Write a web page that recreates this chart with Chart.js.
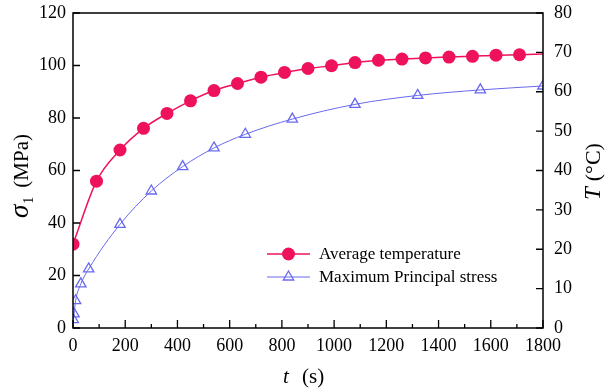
<!DOCTYPE html>
<html>
<head>
<meta charset="utf-8">
<script src="https://cdn.jsdelivr.net/npm/chart.js@4"></script>
<style>
  html, body { margin: 0; padding: 0; background: #fff; }
  #wrap { width: 606px; height: 389px; position: relative; }
</style>
</head>
<body>
<div id="wrap"><canvas id="chart"></canvas></div>
<script>
// Average temperature (right axis, °C)
const tempTime = [0, 90, 180, 270, 360, 450, 540, 630, 720, 810, 900, 990, 1080, 1170, 1260, 1350, 1440, 1530, 1620, 1710, 1800];
const tempValues = [21.3, 37.3, 45.2, 50.7, 54.5, 57.7, 60.3, 62.1, 63.7, 64.9, 65.9, 66.6, 67.4, 68.0, 68.3, 68.6, 68.8, 69.0, 69.3, 69.4, 69.6];

// Maximum principal stress (left axis, MPa)
const stressTime = [1, 4, 10, 30, 60, 180, 300, 420, 540, 660, 840, 1080, 1320, 1560, 1800];
const stressValues = [3.2, 5.4, 10.4, 16.8, 22.5, 39.5, 52.2, 61.5, 68.6, 73.8, 79.6, 85.2, 88.6, 90.7, 92.2];

const xTicks = [0, 200, 400, 600, 800, 1000, 1200, 1400, 1600, 1800];
const leftTicks = [0, 20, 40, 60, 80, 100, 120];
const rightTicks = [0, 10, 20, 30, 40, 50, 60, 70, 80];

const pink = 'rgb(238, 18, 92)';
const blue = 'rgb(105, 105, 240)';
const serif = '"Liberation Serif", "Times New Roman", serif';

const toPoints = (xs, ys) => xs.map((x, i) => ({ x: x, y: ys[i] }));

// no marker on the last temperature point (curve end only)
const tempRadius = tempTime.map((t, i) => i === tempTime.length - 1 ? 0 : 6.5);

// frame, inward ticks, axis titles and legend
const framePlugin = {
    id: 'frame',
    afterDraw(chart) {
        const ctx = chart.ctx;
        const a = chart.chartArea;
        const sx = chart.scales.x, sy = chart.scales.y, sy2 = chart.scales.y2;
        ctx.save();
        ctx.strokeStyle = '#000';
        ctx.lineWidth = 1.5;
        ctx.strokeRect(a.left, a.top, a.right - a.left, a.bottom - a.top);

        ctx.lineWidth = 1.3;
        ctx.beginPath();
        for (let t = 0; t <= 1800; t += 100) {
            const px = sx.getPixelForValue(t);
            const len = t % 200 === 0 ? 8 : 4;
            ctx.moveTo(px, a.bottom);
            ctx.lineTo(px, a.bottom - len);
        }
        leftTicks.forEach(v => {
            const py = sy.getPixelForValue(v);
            ctx.moveTo(a.left, py);
            ctx.lineTo(a.left + 7, py);
        });
        rightTicks.forEach(v => {
            const py = sy2.getPixelForValue(v);
            ctx.moveTo(a.right, py);
            ctx.lineTo(a.right - 7, py);
        });
        ctx.stroke();

        ctx.fillStyle = '#000';
        ctx.textBaseline = 'alphabetic';

        // x title: t  (s)
        ctx.font = 'italic 21px ' + serif;
        ctx.textAlign = 'left';
        ctx.fillText('t', 283, 383);
        ctx.font = '21px ' + serif;
        ctx.fillText('(s)', 302, 383);

        // left title: σ1  (MPa)
        ctx.save();
        ctx.translate(28, 218);
        ctx.rotate(-Math.PI / 2);
        ctx.font = 'italic 27px ' + serif;
        ctx.fillText('σ', 0, 0);
        let w = ctx.measureText('σ').width;
        ctx.font = '14px ' + serif;
        ctx.fillText('1', w + 1, 5);
        w += ctx.measureText('1').width + 10;
        ctx.font = '21px ' + serif;
        ctx.fillText('(MPa)', w, 0);
        ctx.restore();

        // right title: T (°C)
        ctx.save();
        ctx.translate(600, 200);
        ctx.rotate(-Math.PI / 2);
        ctx.font = 'italic 23px ' + serif;
        ctx.fillText('T', 0, 0);
        w = ctx.measureText('T').width + 6;
        ctx.font = '22px ' + serif;
        ctx.fillText('(°C)', w, 0);
        ctx.restore();

        // legend
        const rows = [
            { ds: chart.data.datasets[0], y: 254 },
            { ds: chart.data.datasets[1], y: 277 }
        ];
        rows.forEach(r => {
            ctx.strokeStyle = r.ds.borderColor;
            ctx.lineWidth = r.ds.borderWidth;
            ctx.beginPath();
            ctx.moveTo(267, r.y);
            ctx.lineTo(310, r.y);
            ctx.stroke();
            ctx.fillStyle = r.ds.pointBackgroundColor;
            ctx.strokeStyle = r.ds.pointBorderColor;
            ctx.lineWidth = r.ds.pointBorderWidth;
            Chart.helpers.drawPoint(ctx, {
                pointStyle: r.ds.pointStyle,
                radius: r.ds.pointStyle === 'circle' ? 6.5 : 6,
                borderWidth: r.ds.pointBorderWidth
            }, 288.5, r.y);
            ctx.fillStyle = '#000';
            ctx.font = '17px ' + serif;
            ctx.textBaseline = 'middle';
            ctx.fillText(r.ds.label, 319, r.y + 1);
        });
        ctx.restore();
    }
};

const plainLabel = v => String(v);

new Chart(document.getElementById('chart'), {
    type: 'line',
    data: {
        datasets: [{
            label: 'Average temperature',
            data: toPoints(tempTime, tempValues),
            yAxisID: 'y2',
            borderColor: pink,
            borderWidth: 1.5,
            backgroundColor: pink,
            pointStyle: 'circle',
            pointRadius: tempRadius,
            pointBackgroundColor: pink,
            pointBorderColor: pink,
            pointBorderWidth: 0,
            cubicInterpolationMode: 'monotone',
            fill: false
        }, {
            label: 'Maximum Principal stress',
            data: toPoints(stressTime, stressValues),
            yAxisID: 'y',
            borderColor: blue,
            borderWidth: 1,
            backgroundColor: 'rgba(0,0,0,0)',
            pointStyle: 'triangle',
            pointRadius: 6,
            pointBackgroundColor: 'rgba(0,0,0,0)',
            pointBorderColor: blue,
            pointBorderWidth: 1.3,
            cubicInterpolationMode: 'monotone',
            fill: false
        }]
    },
    options: {
        responsive: true,
        maintainAspectRatio: false,
        animation: false,
        events: [],
        layout: { padding: { top: 13, left: 0, right: 0, bottom: 0 } },
        plugins: {
            legend: { display: false },
            tooltip: { enabled: false }
        },
        scales: {
            x: {
                type: 'linear',
                min: 0,
                max: 1800,
                grid: { display: false, drawTicks: false },
                border: { display: false },
                afterFit: s => { s.height = 61; s.paddingLeft = 0; s.paddingRight = 0; },
                afterBuildTicks: s => { s.ticks = xTicks.map(v => ({ value: v })); },
                ticks: {
                    padding: 7,
                    color: '#000',
                    callback: plainLabel,
                    font: { family: serif, size: 18 }
                }
            },
            y: {
                position: 'left',
                min: 0,
                max: 120,
                grid: { display: false, drawTicks: false },
                border: { display: false },
                afterFit: s => { s.width = 73; s.paddingTop = 0; s.paddingBottom = 0; },
                afterBuildTicks: s => { s.ticks = leftTicks.map(v => ({ value: v })); },
                ticks: {
                    padding: 7,
                    color: '#000',
                    callback: plainLabel,
                    font: { family: serif, size: 18 }
                }
            },
            y2: {
                position: 'right',
                min: 0,
                max: 80,
                grid: { display: false, drawTicks: false },
                border: { display: false },
                afterFit: s => { s.width = 63; s.paddingTop = 0; s.paddingBottom = 0; },
                afterBuildTicks: s => { s.ticks = rightTicks.map(v => ({ value: v })); },
                ticks: {
                    padding: 11,
                    color: '#000',
                    callback: plainLabel,
                    font: { family: serif, size: 18 }
                }
            }
        }
    },
    plugins: [framePlugin]
});
</script>
</body>
</html>
